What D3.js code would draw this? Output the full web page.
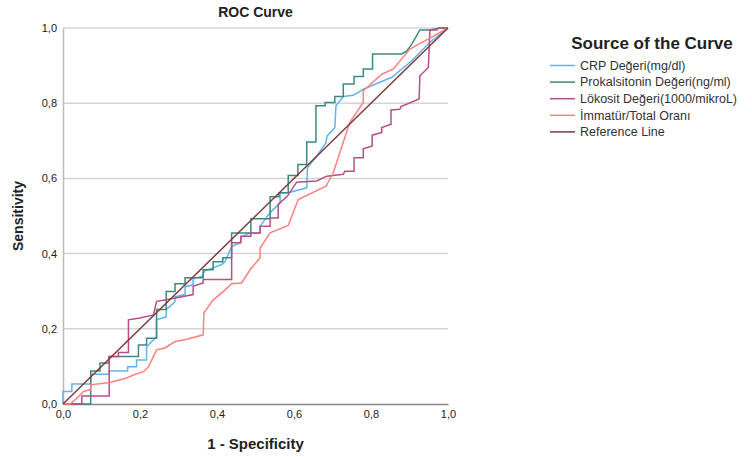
<!DOCTYPE html>
<html>
<head>
<meta charset="utf-8">
<style>
  body { margin: 0; background: #fff; }
  text { font-family: "Liberation Sans", Arial, sans-serif; }
</style>
</head>
<body>
<svg width="752" height="457"></svg>
<script src="https://cdn.jsdelivr.net/npm/d3@7"></script>
<script>
// curve points [1 - specificity, sensitivity]
const crp = [[0,0],[0,0.033],[0.023,0.033],[0.023,0.053],[0.072,0.053],[0.072,0.079],[0.120,0.079],[0.120,0.088],[0.168,0.088],[0.168,0.099],[0.191,0.099],[0.191,0.117],[0.217,0.117],[0.217,0.152],[0.243,0.179],[0.243,0.224],[0.268,0.232],[0.268,0.251],[0.291,0.272],[0.291,0.285],[0.317,0.291],[0.317,0.312],[0.338,0.317],[0.338,0.333],[0.360,0.339],[0.369,0.355],[0.390,0.362],[0.412,0.371],[0.421,0.379],[0.438,0.419],[0.460,0.429],[0.464,0.445],[0.486,0.455],[0.512,0.455],[0.512,0.473],[0.538,0.509],[0.564,0.535],[0.564,0.562],[0.585,0.562],[0.633,0.575],[0.635,0.629],[0.659,0.659],[0.683,0.695],[0.686,0.713],[0.706,0.735],[0.709,0.793],[0.728,0.818],[0.754,0.821],[0.780,0.837],[0.854,0.869],[0.906,0.913],[0.953,0.962],[1,1]];

const prokalsitonin = [[0,0],[0.072,0],[0.072,0.088],[0.096,0.088],[0.096,0.109],[0.120,0.109],[0.120,0.126],[0.196,0.126],[0.196,0.157],[0.217,0.157],[0.217,0.175],[0.243,0.175],[0.243,0.251],[0.268,0.251],[0.268,0.299],[0.291,0.299],[0.291,0.320],[0.317,0.320],[0.317,0.336],[0.364,0.336],[0.364,0.357],[0.390,0.357],[0.390,0.378],[0.415,0.378],[0.415,0.389],[0.438,0.389],[0.438,0.455],[0.488,0.455],[0.488,0.493],[0.538,0.493],[0.538,0.551],[0.561,0.551],[0.561,0.562],[0.585,0.562],[0.585,0.608],[0.610,0.608],[0.610,0.637],[0.633,0.637],[0.633,0.697],[0.657,0.697],[0.657,0.793],[0.681,0.793],[0.681,0.802],[0.706,0.802],[0.706,0.818],[0.728,0.818],[0.728,0.851],[0.756,0.851],[0.756,0.871],[0.780,0.871],[0.780,0.891],[0.804,0.891],[0.804,0.931],[0.880,0.931],[0.893,0.939],[0.906,0.957],[0.927,0.995],[0.953,0.995],[0.979,1],[1,1]];

const lokosit = [[0,0],[0.049,0],[0.049,0.021],[0.120,0.021],[0.120,0.126],[0.144,0.126],[0.144,0.137],[0.170,0.137],[0.170,0.224],[0.200,0.229],[0.235,0.237],[0.243,0.273],[0.268,0.277],[0.338,0.291],[0.338,0.313],[0.364,0.322],[0.364,0.331],[0.438,0.331],[0.438,0.429],[0.462,0.429],[0.462,0.446],[0.488,0.446],[0.488,0.455],[0.512,0.455],[0.512,0.473],[0.538,0.473],[0.538,0.495],[0.559,0.495],[0.559,0.531],[0.583,0.553],[0.607,0.590],[0.659,0.593],[0.685,0.606],[0.728,0.611],[0.732,0.619],[0.756,0.619],[0.756,0.655],[0.780,0.655],[0.780,0.679],[0.803,0.686],[0.803,0.715],[0.828,0.722],[0.828,0.735],[0.852,0.744],[0.852,0.782],[0.875,0.784],[0.878,0.791],[0.925,0.811],[0.927,0.873],[0.949,0.895],[0.953,0.995],[0.971,0.995],[0.975,1],[1,1]];

const immatur = [[0,0],[0.018,0],[0.036,0.015],[0.053,0.033],[0.072,0.039],[0.072,0.051],[0.105,0.055],[0.122,0.057],[0.165,0.069],[0.183,0.077],[0.209,0.086],[0.222,0.099],[0.243,0.144],[0.265,0.149],[0.291,0.166],[0.317,0.171],[0.364,0.184],[0.366,0.242],[0.390,0.277],[0.412,0.295],[0.438,0.320],[0.464,0.322],[0.486,0.357],[0.512,0.389],[0.512,0.415],[0.538,0.455],[0.585,0.475],[0.611,0.544],[0.683,0.579],[0.702,0.615],[0.745,0.749],[0.780,0.802],[0.780,0.833],[0.828,0.877],[0.858,0.891],[0.901,0.944],[0.953,0.973],[1,1]];

const reference = [[0,0],[1,1]];

const seriesNames = ['CRP Değeri(mg/dl)', 'Prokalsitonin Değeri(ng/ml)', 'Lökosit Değeri(1000/mikroL)', 'İmmatür/Total Oranı', 'Reference Line'];
const seriesData = [crp, prokalsitonin, lokosit, immatur, reference];
const seriesColors = ['#62b3f0', '#3b8a80', '#b84e85', '#ff8080', '#7d3c3c'];
const ticks = [0, 0.2, 0.4, 0.6, 0.8, 1.0];

const svg = d3.select('svg');
const margin = {top: 28, left: 63};
const width = 385, height = 376;

const x = d3.scaleLinear().domain([0, 1]).range([0, width]);
const y = d3.scaleLinear().domain([0, 1]).range([height, 0]);
const fmt = d => d3.format('.1f')(d).replace('.', ',');

const chart = svg.append('g').attr('transform', 'translate(' + margin.left + ',' + margin.top + ')');

// horizontal grid
chart.selectAll('.grid').data(ticks.slice(1)).enter()
  .append('line')
  .attr('x1', 0).attr('x2', width)
  .attr('y1', d => y(d)).attr('y2', d => y(d))
  .attr('stroke', '#d4d4d4').attr('stroke-width', 1.5);

// axes
const xAxis = chart.append('g').attr('transform', 'translate(0,' + height + ')')
  .call(d3.axisBottom(x).tickValues(ticks).tickFormat(fmt).tickSize(0).tickPadding(6));
const yAxis = chart.append('g')
  .call(d3.axisLeft(y).tickValues(ticks).tickFormat(fmt).tickSize(0).tickPadding(6));
xAxis.select('.domain').attr('stroke', '#888').attr('stroke-width', 1.5);
yAxis.select('.domain').attr('stroke', '#bbb').attr('stroke-width', 1.5);
svg.selectAll('.tick text').attr('font-family', '"Liberation Sans", Arial, sans-serif')
  .attr('font-size', 11).attr('fill', '#222');

// curves
const line = d3.line().x(d => x(d[0])).y(d => y(d[1]));
chart.selectAll('.curve').data(seriesData).enter()
  .append('path')
  .attr('fill', 'none')
  .attr('stroke', (d, i) => seriesColors[i])
  .attr('stroke-width', 1.5)
  .attr('d', line);

// titles
svg.append('text').text('ROC Curve')
  .attr('x', margin.left + width / 2).attr('y', 17)
  .attr('text-anchor', 'middle').attr('font-size', 14).attr('font-weight', 'bold').attr('fill', '#222');
svg.append('text').text('1 - Specificity')
  .attr('x', margin.left + width / 2).attr('y', 449)
  .attr('text-anchor', 'middle').attr('font-size', 15).attr('font-weight', 'bold').attr('fill', '#222');
svg.append('text').text('Sensitivity')
  .attr('transform', 'translate(23,216) rotate(-90)')
  .attr('text-anchor', 'middle').attr('font-size', 14).attr('font-weight', 'bold').attr('fill', '#222');

// legend
const legend = svg.append('g').attr('transform', 'translate(550,0)');
legend.append('text').text('Source of the Curve')
  .attr('x', 102).attr('y', 49)
  .attr('text-anchor', 'middle').attr('font-size', 17).attr('font-weight', 'bold').attr('fill', '#222');
const item = legend.selectAll('.item').data(seriesNames).enter()
  .append('g')
  .attr('transform', (d, i) => 'translate(0,' + (65.5 + i * 16.6) + ')');
item.append('line').attr('x1', 0).attr('x2', 25)
  .attr('stroke', (d, i) => seriesColors[i]).attr('stroke-width', 1.5);
item.append('text').text(d => d)
  .attr('x', 30).attr('dy', '0.35em')
  .attr('font-size', 12.5).attr('fill', '#333');
</script>
</body>
</html>
